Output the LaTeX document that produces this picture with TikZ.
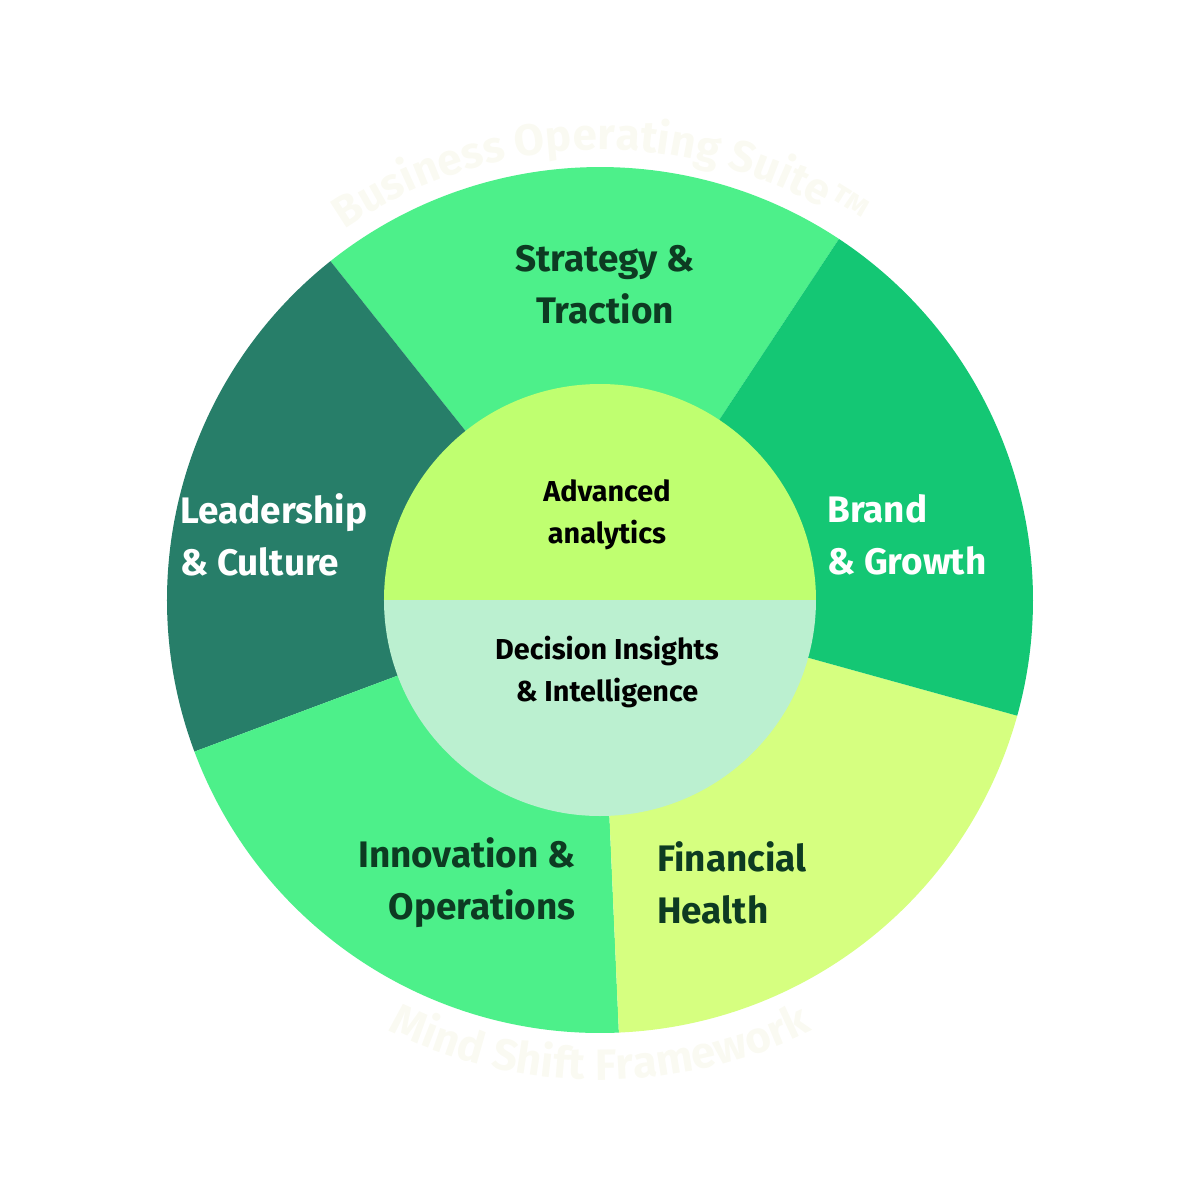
\documentclass[tikz,border=0pt]{standalone}
\usepackage{fontspec}
\setmainfont{Fira Sans}
\usetikzlibrary{decorations.text}
\definecolor{stratgreen}{HTML}{4DF08A}
\definecolor{brandgreen}{HTML}{14C774}
\definecolor{fingreen}{HTML}{D6FF80}
\definecolor{leadgreen}{HTML}{277E69}
\definecolor{advgreen}{HTML}{BFFF70}
\definecolor{decgreen}{HTML}{BBF0D0}
\definecolor{darktext}{HTML}{0D3B22}
\definecolor{ghost}{HTML}{FAFAF2}

\begin{document}
\begin{tikzpicture}
\useasboundingbox (-6,-6) rectangle (6,6);
\begin{scope}[every node/.style={font=\fontsize{10.5}{14.8}\selectfont\bfseries, align=center}]
    \fill [stratgreen] (0,0) -- (56.5:4.33) arc (56.5:128.5:4.33) -- cycle;
    \fill [leadgreen] (0,0) -- (128.5:4.33) arc (128.5:200.5:4.33) -- cycle;
    \fill [stratgreen] (0,0) -- (200.5:4.33) arc (200.5:272.5:4.33) -- cycle;
    \fill [fingreen] (0,0) -- (272.5:4.33) arc (272.5:344.5:4.33) -- cycle;
    \fill [brandgreen] (0,0) -- (344.5:4.33) arc (344.5:416.5:4.33) -- cycle;

    \fill [advgreen] (2.16,0) arc (0:180:2.16) -- cycle;
    \fill [decgreen] (-2.16,0) arc (180:360:2.16) -- cycle;

    \path [decorate, decoration={text along path, text align=center,
        text={|\fontsize{12.5}{12.5}\selectfont\bfseries\color{ghost}|Business Operating Suite™}}]
        (155:4.5) arc (155:25:4.5);
    \path [decorate, decoration={text along path, text align=center,
        text={|\fontsize{12.5}{12.5}\selectfont\bfseries\color{ghost}|Mind Shift Framework}}]
        (235:4.8) arc (235:305:4.8);

    \node [text=darktext] (strategy) at (0.05,3.15) {Strategy \&\\Traction};
    \node [text=white, anchor=west, align=left] (leadership) at (-4.32,0.65) {Leadership\\\& Culture};
    \node [text=white, anchor=west, align=left] (brand) at (2.15,0.65) {Brand\\\& Growth};
    \node [text=darktext, anchor=east, align=right] (innovation) at (-0.12,-2.83) {Innovation \&\\Operations};
    \node [text=darktext, anchor=west, align=left] (financial) at (0.45,-2.83) {Financial\\Health};

    \node [font=\fontsize{8.2}{12}\selectfont\bfseries] (advanced) at (0.07,0.85) {Advanced\\analytics};
    \node [font=\fontsize{8.2}{12}\selectfont\bfseries] (decision) at (0.07,-0.72) {Decision Insights\\\& Intelligence};
\end{scope}
\end{tikzpicture}
\end{document}
